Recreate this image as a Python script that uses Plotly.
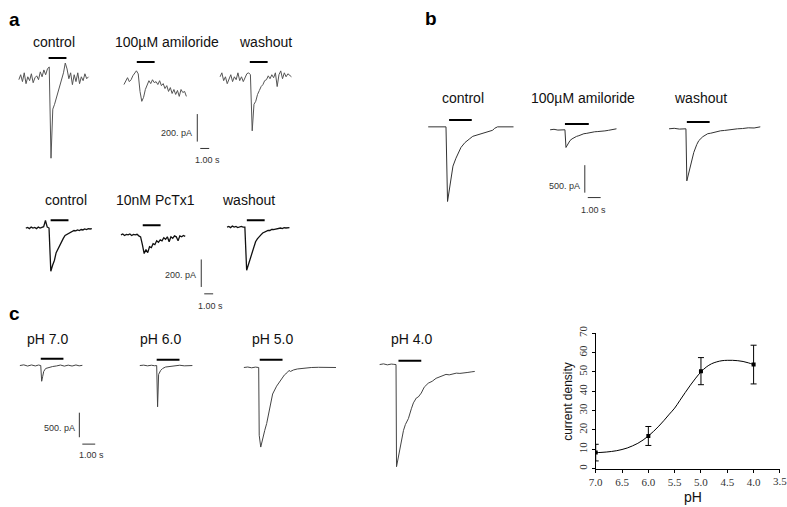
import numpy as np
import plotly.graph_objects as go

W, H = 787, 507

# ---------------- data ----------------
# Panel a (sampled every DT_A seconds), currents in pA
DT_A = 0.2
a_top_control = [-7, 29, -21, 43, -36, 14, -14, 36, -29, 7, 21, -7, 50, 14, 64, 29, 71, 86,
                 -578, -221, -186, -143, -100, -57, -14, 43, 114, 71, 0, 43, -43, 29, -21, 43,
                 -36, 14, -14, 36, 0, 14]
a_top_amiloride = [-21, 7, 29, 0, 14, 43, 64, 79, 57, -71, -143, -114, -57, -29, 7, -14, 14, -7,
                   0, -21, 7, -29, -14, -50, -29, -71, -43, -86, -57, -93, -64, -107, -57, -79,
                   -71, -107]
a_top_washout = [14, 43, -14, 14, -36, 0, 29, -21, 14, -7, 43, -14, 14, -21, 7, 36, 43, 29,
                 -379, -186, -164, -114, -86, -57, -43, -14, -7, 21, 0, 29, 7, 43, -57, 29, 57,
                 0, 43, 14, 36, 21, 14]
a_bot_control = [0, 4, -4, 7, 0, 4, -4, 7, 0, 7, 10, 55, 7, 0, -314, -271, -236, -179, -150,
                 -125, -93, -75, -54, -46, -36, -29, -25, -18, -21, -14, -18, -11, -14, -7, -11,
                 -4, -7, -4]
a_bot_pctx1 = [0, 7, -4, 4, 0, 7, -4, 4, 0, 4, -7, -14, -71, -136, -107, -129, -86, -93, -64,
               -71, -43, -54, -36, -43, -21, -32, -14, -50, -14, -25, -7, -14, -43, -7, -14, -4,
               -11]
a_bot_washout = [0, 4, -4, 7, 0, 4, -4, 0, 4, 0, 0, -314, -271, -236, -193, -150, -107, -86,
                 -68, -57, -43, -36, -32, -25, -25, -18, -18, -14, -14, -11, -7, -11, -4, -7,
                 -4, -4]

# Panel b (time s, current pA)
b_control_t = [0, 1.38, 1.5, 1.62, 1.77, 1.92, 2.15, 2.38, 2.54, 2.85, 3.08, 3.23, 3.46, 3.62,
               3.85, 4.0, 4.23, 4.38, 4.62, 4.77, 5.0, 5.15, 5.38, 6.62]
b_control_I = [0, 0, -1357, -1161, -875, -714, -571, -446, -375, -286, -250, -214, -172, -161,
               -136, -125, -112, -98, -84, -71, -62, -27, 0, 0]
b_amil_t = [0, 0.3, 0.6, 0.9, 1.15, 1.23, 1.38, 1.54, 1.7, 1.85, 2.05, 2.23, 2.45, 2.62, 2.8,
            3.0, 3.25, 3.46, 3.7, 4.0, 4.25, 4.54, 4.85, 5.15]
b_amil_I = [0, 9, -5, 5, 0, -321, -268, -196, -165, -143, -120, -107, -85, -71, -66, -54, -45,
            -36, -32, -18, -20, -9, 0, 18]
b_wash_t = [0, 0.4, 0.8, 1.1, 1.31, 1.38, 1.54, 1.69, 1.92, 2.15, 2.31, 2.62, 3.0, 3.23, 3.46,
            3.75, 4.0, 4.3, 4.62, 5.0, 5.31, 5.7, 6.15, 6.6, 7.08]
b_wash_I = [0, 9, -5, 5, 0, -946, -804, -661, -429, -286, -214, -143, -89, -80, -63, -48, -36,
            -30, -18, -14, 0, 5, 18, 15, 36]

# Panel c traces (time s, current pA)
c70_t = [0, 0.3, 0.6, 0.9, 1.2, 1.45, 1.62, 1.69, 1.77, 1.85, 2.0, 2.23, 2.54, 2.85, 3.15, 3.45,
         3.75, 4.05, 4.35, 4.6, 4.85]
c70_I = [0, 14, -10, 12, -8, 10, 0, -320, -220, -120, -60, -40, -20, -8, 10, -12, 8, -10, 12,
         -6, 4]
c60_t = [0, 0.3, 0.6, 0.9, 1.15, 1.31, 1.38, 1.46, 1.62, 1.77, 2.0, 2.23, 2.77, 3.1, 3.45, 3.8,
         4.08]
c60_I = [0, 8, -6, 6, -4, 0, -840, -180, -100, -60, -30, -20, -10, 6, -6, 4, 0]
c50_t = [0, 0.3, 0.6, 0.9, 1.15, 1.19, 1.31, 1.46, 1.62, 1.77, 2.0, 2.23, 2.54, 2.92, 3.15, 3.38,
         3.5, 3.62, 3.85, 4.15, 4.69, 5.23, 5.8, 6.4, 7.15]
c50_I = [0, 10, -6, 8, 0, -1380, -1620, -1420, -1280, -1140, -820, -540, -380, -220, -150, -100,
         -60, -80, -50, -30, -10, 0, 4, 0, 0]
c40_t = [0, 0.3, 0.6, 0.9, 1.1, 1.27, 1.31, 1.46, 1.62, 1.85, 2.0, 2.23, 2.46, 2.62, 2.85, 3.0,
         3.23, 3.46, 3.77, 4.08, 4.38, 4.77, 5.15, 5.4, 5.69, 5.95, 6.23, 6.5, 6.85, 7.1, 7.38]
c40_I = [0, 14, -6, 10, 4, 0, -2080, -1880, -1600, -1340, -1220, -1100, -900, -780, -680, -660,
         -580, -460, -380, -340, -280, -240, -200, -210, -190, -175, -180, -165, -160, -150, -140]

# Stimulus application bars: (start s, end s, drawn level pA)
a_top_stim = [(3.33, 5.33, 150), (1.44, 3.44, 143), (3.33, 5.33, 121)]
a_bot_stim = [(2.78, 4.78, 57), (2.44, 4.44, 71), (2.22, 4.22, 50)]
b_stim = [(1.62, 3.38, 125), (1.15, 3.0, 107), (1.38, 3.15, 125)]
c_stim = [(1.62, 3.38, 140), (1.31, 3.08, 120), (1.23, 3.0, 160), (1.46, 3.23, 80)]

# Dose-response
ph_points = [7.0, 6.0, 5.0, 4.0]
density = [8.3, 16.9, 50.4, 53.8]
density_err = [4.3, 4.9, 7.0, 10.0]
fit_ph = [7.0, 6.9, 6.8, 6.7, 6.6, 6.5, 6.4, 6.3, 6.2, 6.1, 6.0, 5.9, 5.8, 5.7, 5.6, 5.5, 5.4,
          5.3, 5.2, 5.1, 5.0, 4.9, 4.8, 4.7, 4.6, 4.5, 4.4, 4.3, 4.2, 4.1, 4.0]
fit_density = [8.3, 8.4, 8.6, 8.9, 9.3, 9.9, 10.7, 11.8, 13.1, 14.8, 16.9, 19.3, 22.0, 25.0,
               28.2, 31.3, 35.3, 39.3, 43.2, 46.8, 50.0, 52.5, 54.2, 55.2, 55.8, 56.0, 56.0,
               55.8, 55.4, 54.7, 53.8]
ph_ticks = [7.0, 6.5, 6.0, 5.5, 5.0, 4.5, 4.0, 3.5]
density_ticks = [0, 10, 20, 30, 40, 50, 60, 70]

FONT = "Liberation Sans, Arial, sans-serif"
SERIF = 'Liberation Serif, Times New Roman, serif'

fig = go.Figure()
_n = [1]


def new_axes(x0, yb, sx, sy, t0, t1, i0, i1):
    _n[0] += 1
    s = str(_n[0])
    left, right = x0 + t0 * sx, x0 + t1 * sx
    top, bottom = yb - i1 * sy, yb - i0 * sy
    fig.update_layout({
        'xaxis' + s: dict(domain=[max(0, left / W), min(1, right / W)], range=[t0, t1],
                          visible=False, anchor='y' + s, fixedrange=True),
        'yaxis' + s: dict(domain=[max(0, 1 - bottom / H), min(1, 1 - top / H)], range=[i0, i1],
                          visible=False, anchor='x' + s, fixedrange=True),
    })
    return 'x' + s, 'y' + s


def add_rec(t, I, x0, yb, sx, sy, color, width, stim):
    t = np.asarray(t, float)
    I = np.asarray(I, float)
    pad = 4
    hi = max(I.max(), stim[2]) + pad / sy
    lo = I.min() - pad / sy
    xa, ya = new_axes(x0, yb, sx, sy, t.min() - pad / sx, t.max() + pad / sx, lo, hi)
    fig.add_trace(go.Scatter(x=t, y=I, mode='lines', line=dict(color=color, width=width),
                             xaxis=xa, yaxis=ya, hoverinfo='skip', showlegend=False))
    fig.add_trace(go.Scatter(x=[stim[0], stim[1]], y=[stim[2], stim[2]], mode='lines',
                             line=dict(color='black', width=2), xaxis=xa, yaxis=ya,
                             hoverinfo='skip', showlegend=False))


def add_scale(x0, yb, sx, sy, amp, dur, gap_px, drop_px):
    pad = 3
    gap = gap_px / sx
    lev = -drop_px / sy
    xa, ya = new_axes(x0, yb, sx, sy, -pad / sx, gap + dur + pad / sx, lev - pad / sy,
                      amp + pad / sy)
    fig.add_trace(go.Scatter(x=[0, 0], y=[0, amp], mode='lines', line=dict(color='#333', width=1),
                             xaxis=xa, yaxis=ya, hoverinfo='skip', showlegend=False))
    fig.add_trace(go.Scatter(x=[gap, gap + dur], y=[lev, lev], mode='lines',
                             line=dict(color='#333', width=1), xaxis=xa, yaxis=ya,
                             hoverinfo='skip', showlegend=False))


def label(px, py, text, size=14, anchor='center', bold=False, color='#111', angle=0,
          family=FONT):
    fig.add_annotation(x=px / W, y=1 - py / H, xref='paper', yref='paper', text=text,
                       showarrow=False, xanchor=anchor, yanchor='middle', textangle=angle,
                       borderpad=0,
                       font=dict(family=family, size=size, color=color,
                                 weight='bold' if bold else 'normal'))


# ---- panel a, top row ----
SXA, SYA = 9.0, 28 / 200
for I, x0, yb, st in zip([a_top_control, a_top_amiloride, a_top_washout], [12, 118, 215],
                         [72, 75, 72], a_top_stim):
    add_rec(np.arange(len(I)) * DT_A, I, x0, yb, SXA, SYA, '#555', 1, st)
add_scale(192, 136, SXA, SYA, 200, 1.0, 3, 7)

# ---- panel a, bottom row ----
for I, x0, yb, st in zip([a_bot_control, a_bot_pctx1, a_bot_washout], [19, 115, 222],
                         [224, 231, 223], a_bot_stim):
    add_rec(np.arange(len(I)) * DT_A, I, x0, yb, SXA, SYA, '#111', 1.3, st)
add_scale(196, 284, SXA, SYA, 200, 1.0, 3, 7)

# ---- panel b ----
SXB, SYB = 13.0, 28 / 500
for t, I, x0, yb, st in zip([b_control_t, b_amil_t, b_wash_t], [b_control_I, b_amil_I, b_wash_I],
                            [425, 548, 668], [121, 124, 123], b_stim):
    add_rec(t, I, x0, yb, SXB, SYB, '#333', 1, st)
add_scale(583, 188, SXB, SYB, 500, 1.0, 3, 5)

# ---- panel c traces ----
SXC, SYC = 13.0, 25 / 500
for t, I, x0, yb, st in zip([c70_t, c60_t, c50_t, c40_t], [c70_I, c60_I, c50_I, c40_I],
                            [13, 134, 239, 376], [364, 364, 366, 363], c_stim):
    add_rec(t, I, x0, yb, SXC, SYC, '#444', 1, st)
add_scale(73, 437, SXC, SYC, 500, 1.0, 3, 7)

# ---- dose-response plot ----
fig.add_trace(go.Scatter(x=fit_ph, y=fit_density, mode='lines',
                         line=dict(color='black', width=1, shape='spline'),
                         xaxis='x', yaxis='y', hoverinfo='skip', showlegend=False))
fig.add_trace(go.Scatter(x=ph_points, y=density, mode='markers',
                         marker=dict(symbol='square', size=4, color='black'),
                         error_y=dict(type='data', array=density_err, color='black',
                                      thickness=1, width=3),
                         xaxis='x', yaxis='y', hoverinfo='skip', showlegend=False))
serif = dict(family=SERIF, size=11, color='#333')
# last tick label (3.5) sits at the very edge; it is written as its own text below
ph_ticktext = [f'{v:.1f}' for v in ph_ticks[:-1]] + ['']
fig.update_layout(
    xaxis=dict(domain=[594 / W, 780 / W], range=[7.0, 3.497], tickvals=ph_ticks,
               ticktext=ph_ticktext, showline=True, linecolor='black',
               linewidth=1, ticks='outside', ticklen=3, tickcolor='black', tickfont=serif,
               showgrid=False, zeroline=False, anchor='y', fixedrange=True),
    yaxis=dict(domain=[1 - 469 / H, 1 - 331 / H], range=[0, 70.05], tickvals=density_ticks,
               tickangle=-90, showline=True, linecolor='black', linewidth=1, ticks='outside',
               ticklen=3, tickcolor='black', tickfont=serif,
               showgrid=False, zeroline=False, anchor='x', fixedrange=True),
)
fig.add_annotation(x=ph_ticks[-1], y=1 - 482 / H, xref='x', yref='paper',
                   text=f'{ph_ticks[-1]:.1f}', showarrow=False, xanchor='center',
                   yanchor='middle', borderpad=0, font=serif)
label(692, 498, 'pH', size=14)
label(566, 400, 'current density', size=12, angle=-90)

# ---- text labels ----
for txt, x in [('control', 47), ('100µM amiloride', 161), ('washout', 261)]:
    label(x, 35, txt)
for txt, x in [('control', 60), ('10nM PcTx1', 150), ('washout', 244)]:
    label(x, 195, txt)
for txt, x in [('control', 460), ('100µM amiloride', 581), ('washout', 700)]:
    label(x, 92, txt)
for txt, x in [('pH 7.0', 41), ('pH 6.0', 155), ('pH 5.0', 268), ('pH 4.0', 408)]:
    label(x, 337, txt)

label(8, 12, 'a', size=19, bold=True, color='black')
label(428, 11, 'b', size=19, bold=True, color='black')
label(8, 311, 'c', size=19, bold=True, color='black')

# scale bar texts
for px, py, txt in [(188, 127, '200. pA'), (192, 272, '200. pA'), (579, 181, '500. pA'),
                    (70, 428, '500. pA')]:
    label(px, py, txt, size=9, anchor='right', color='#333')
for px, py in [(202, 155), (205, 303), (592, 206), (85, 455)]:
    label(px, py, '1.00 s', size=9, color='#333')

fig.update_layout(width=W, height=H, margin=dict(l=0, r=0, t=0, b=0),
                  paper_bgcolor='white', plot_bgcolor='rgba(0,0,0,0)', showlegend=False)
fig.write_html('out.html', config={'displayModeBar': False},
               post_script="document.body.style.margin='0';document.body.style.overflow='hidden';"
                           "document.documentElement.style.overflow='hidden';")
